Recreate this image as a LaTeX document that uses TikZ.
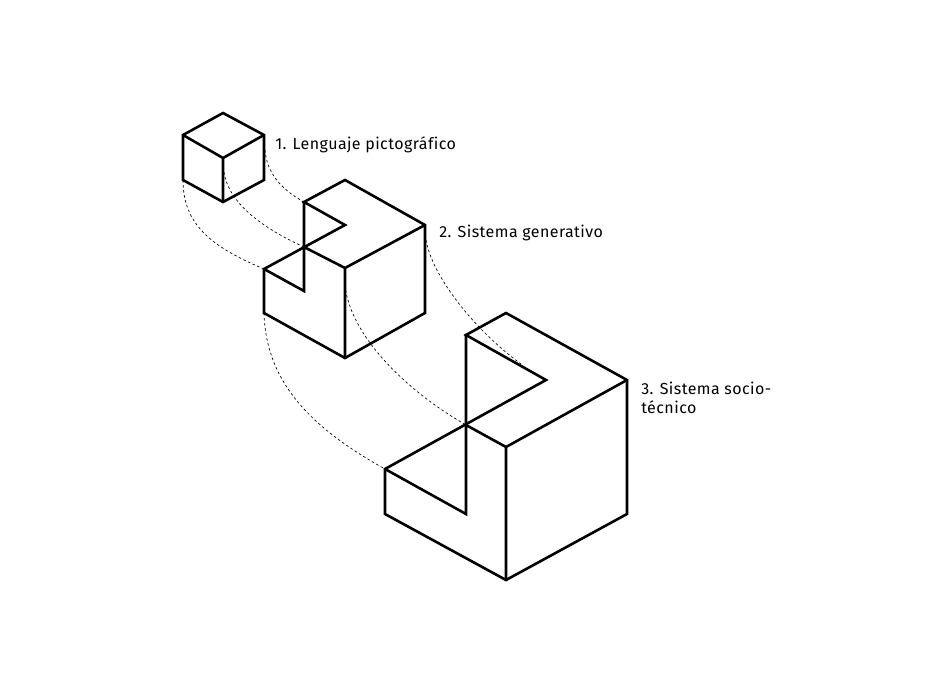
\documentclass[tikz,border=0pt]{standalone}
\usepackage{fontspec}
\setmainfont[LetterSpace=2.75,Ligatures=NoCommon]{Fira Sans}
\tikzset{
	solid edge/.style={line width=1.95pt, line join=miter, line cap=round},
	guide/.style={line width=0.5pt, dash pattern=on 1.9pt off 1.9pt},
	caption/.style={anchor=base west, inner sep=0pt, align=left, font=\fontsize{12pt}{14.25pt}\selectfont, text=black}
}
\begin{document}
\begin{tikzpicture}[x=0.75pt, y=-0.75pt]
	\useasboundingbox (0,0) rectangle (947,685);
	% small cube
	\coordinate (atop) at (223,113);
	\coordinate (aleft) at (183,135);
	\coordinate (aright) at (264,135);
	\coordinate (afront) at (223,158);
	\coordinate (aleftb) at (183,180);
	\coordinate (arightb) at (264,180);
	\coordinate (abot) at (223,202);
	\coordinate (ain) at (224,172);
	\coordinate (ae) at (265,150);
	% middle block
	\coordinate (btop) at (345,180);
	\coordinate (bright) at (425,225);
	\coordinate (bback) at (304,202);
	\coordinate (bnotch) at (345,225);
	\coordinate (bmid) at (304,247);
	\coordinate (bfront) at (345,268);
	\coordinate (bleft) at (264,269);
	\coordinate (binner) at (304,291);
	\coordinate (bleftb) at (264,313);
	\coordinate (bbot) at (345,358);
	\coordinate (brightb) at (425,313);
	\coordinate (bin) at (345,285);
	\coordinate (be) at (426,240);
	% big block
	\coordinate (ctop) at (506,313);
	\coordinate (cright) at (627,380);
	\coordinate (cback) at (466,335);
	\coordinate (cnotch) at (546,380);
	\coordinate (cmid) at (466,425);
	\coordinate (cfront) at (506,447);
	\coordinate (cleft) at (385,469);
	\coordinate (cinner) at (466,514);
	\coordinate (cleftb) at (385,514);
	\coordinate (cbot) at (506,580);
	\coordinate (crightb) at (627,514);
	\coordinate (cend) at (521,364);
	% dashed guides
	\draw[guide] (ae) .. controls (267,172) and (279,188) .. (bback);
	\draw[guide] (ain) .. controls (228,200) and (256,225) .. (bmid);
	\draw[guide] (aleftb) .. controls (183,225) and (212,247) .. (bleft);
	\draw[guide] (be) .. controls (432,275) and (472,328) .. (cend);
	\draw[guide] (bin) .. controls (350,335) and (405,390) .. (cmid);
	\draw[guide] (bleftb) .. controls (266,385) and (315,430) .. (cleft);
	% outlines
	\draw[solid edge] (atop) -- (aright) -- (arightb) -- (abot) -- (aleftb) -- (aleft) -- cycle;
	\draw[solid edge] (aleft) -- (afront) -- (aright) (afront) -- (abot);
	\draw[solid edge] (bback) -- (btop) -- (bright) -- (brightb) -- (bbot) -- (bleftb) -- (bleft) -- (bnotch) -- cycle;
	\draw[solid edge] (bback) -- (binner) -- (bleft) (bmid) -- (bfront) -- (bright) (bfront) -- (bbot);
	\draw[solid edge] (cback) -- (ctop) -- (cright) -- (crightb) -- (cbot) -- (cleftb) -- (cleft) -- (cnotch) -- cycle;
	\draw[solid edge] (cback) -- (cinner) -- (cleft) (cmid) -- (cfront) -- (cright) (cfront) -- (cbot);
	% labels
	\node[caption] (first) at (275,149.5) {1. Lenguaje pictográfico};
	\node[caption] (second) at (439,237) {2. Sistema generativo};
	\node[caption] (third) at (641,413.5) {3. Sistema socio-\\técnico};
\end{tikzpicture}
\end{document}
